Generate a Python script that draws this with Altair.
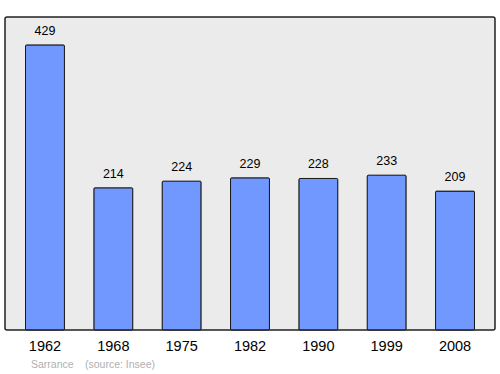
import altair as alt
import pandas as pd

years = ["1962", "1968", "1975", "1982", "1990", "1999", "2008"]
population = [429, 214, 224, 229, 228, 233, 209]
commune = "Sarrance"
source = "(source: Insee)"

df = pd.DataFrame({"year": years, "pop": population})

x = alt.X("year:N", sort=years, title=None,
          scale=alt.Scale(paddingInner=0.43, paddingOuter=0.3),
          axis=alt.Axis(labelAngle=0, ticks=False, domain=False, labelFontSize=14.5,
                        labelFont="Liberation Sans", labelColor="#000", labelPadding=9))
y = alt.Y("pop:Q", title=None, scale=alt.Scale(domain=[0, 471], nice=False),
          axis=None)

bars = alt.Chart(df).mark_bar(color="#7098ff", stroke="#1a1a1a", strokeWidth=1,
                              cornerRadius=1).encode(x=x, y=y)
labels = alt.Chart(df).mark_text(dy=-14, fontSize=12.5, font="Liberation Sans",
                                 color="#000", baseline="middle").encode(
    x=x, y=y, text="pop:Q")

src1 = alt.Chart(pd.DataFrame({"t": [commune]})).mark_text(
    fontSize=10.5, font="Liberation Sans", color="#b0b0b0", align="left",
    baseline="middle").encode(x=alt.value(26), y=alt.value(348), text="t:N")
src2 = alt.Chart(pd.DataFrame({"t": [source]})).mark_text(
    fontSize=10.5, font="Liberation Sans", color="#b0b0b0", align="left",
    baseline="middle").encode(x=alt.value(80), y=alt.value(348), text="t:N")

chart = alt.layer(bars, labels, src1, src2).properties(
    width=490, height=313,
    autosize=alt.AutoSizeParams(type="none"),
    padding={"left": 5, "top": 17, "right": 5, "bottom": 44},
    background="white",
).configure_view(fill="#ebebeb", stroke="#222222", strokeWidth=1.5, cornerRadius=2)

chart.save("out.html", embed_options={"renderer": "svg", "actions": False})
